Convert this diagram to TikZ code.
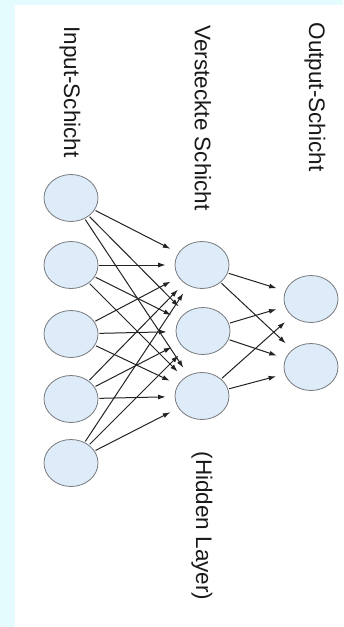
\documentclass[tikz,border=0pt]{standalone}
\usepackage{fontspec}
\setmainfont{Liberation Sans}
\definecolor{nnbg}{RGB}{228,252,254}
\definecolor{nnfill}{RGB}{221,236,248}
\definecolor{nnedge}{RGB}{120,122,126}
\definecolor{nnarrow}{RGB}{35,35,35}
\usetikzlibrary{arrows.meta,positioning,shapes.geometric}

\begin{document}
\begin{tikzpicture}[x=1pt,y=-1pt,
  neuron/.style={draw=nnedge,fill=nnfill,ellipse,minimum width=54pt,minimum height=47pt,
    inner sep=0pt,line width=0.8pt},
  layerlabel/.style={rotate=-90,font=\fontsize{22.5}{27}\selectfont,text=black!90,inner sep=0pt},
  synapse/.style={draw=nnarrow,line width=1pt,-{Latex[length=7.5pt,width=5pt]},
    shorten <=1pt,shorten >=9pt}
]
  % background and white sheet
  \fill[nnbg] (0,0) rectangle (343,627);
  \fill[white] (15,5) rectangle (343,627);
  \useasboundingbox (0,0) rectangle (343,627);
  % layer labels
  \node[layerlabel] (lin) at (70,92) {Input-Schicht};
  \node[layerlabel] (lhid) at (203,118) {Versteckte Schicht};
  \node[layerlabel] (lout) at (315,97) {Output-Schicht};
  \node[layerlabel] (lhl) at (202,526) {(Hidden Layer)};
  % input layer
  \node[neuron] (i1) at (71,198) {};
  \node[neuron] (i2) at (71,265) {};
  \node[neuron] (i3) at (71,334) {};
  \node[neuron] (i4) at (71,399) {};
  \node[neuron] (i5) at (71,463) {};
  % hidden layer
  \node[neuron] (h1) at (202,265) {};
  \node[neuron] (h2) at (203,331) {};
  \node[neuron] (h3) at (202,396) {};
  % output layer
  \node[neuron] (o1) at (311,299) {};
  \node[neuron] (o2) at (311,367) {};
  % connections
  \foreach \i in {1,...,5}
    \foreach \h in {1,2,3}
      \draw[synapse] (i\i) -- (h\h);
  \foreach \h in {1,2,3}
    \foreach \o in {1,2}
      \draw[synapse] (h\h) -- (o\o);
\end{tikzpicture}
\end{document}
